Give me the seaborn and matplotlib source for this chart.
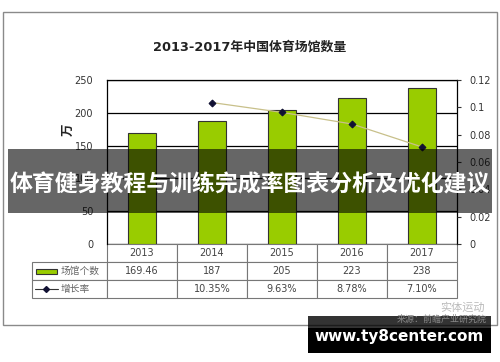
import numpy as np
import pandas as pd
import matplotlib
matplotlib.use('Agg')
import matplotlib.pyplot as plt
import seaborn as sns
from matplotlib.patches import Rectangle
from matplotlib.ticker import FuncFormatter

# 数据
years = ['2013', '2014', '2015', '2016', '2017']
venue_counts = [169.46, 187, 205, 223, 238]
growth_rates = [None, 0.1035, 0.0963, 0.0878, 0.0710]
count_labels = ['169.46', '187', '205', '223', '238']
rate_labels = ['', '10.35%', '9.63%', '8.78%', '7.10%']
row_names = ['场馆个数', '增长率']
left_ticks = [0, 50, 100, 150, 200, 250]
right_ticks = [0, 0.02, 0.04, 0.06, 0.08, 0.10, 0.12]

title = '2013-2017年中国体育场馆数量'
banner = '体育健身教程与训练完成率图表分析及优化建议'
site = 'www.ty8center.com'

sns.set_style('white')
plt.rcParams['font.family'] = ['DejaVu Sans', 'Noto Sans CJK SC']

W, H = 500, 362
fig = plt.figure(figsize=(W / 100, H / 100), dpi=100)
fig.patch.set_facecolor('white')


def px_box(x0, y0, x1, y1):
    # 像素坐标(左上原点) -> figure 坐标
    return [x0 / W, (H - y1) / H, (x1 - x0) / W, (y1 - y0) / H]


ax = fig.add_axes(px_box(107, 80, 457, 244))
df = pd.DataFrame({'年份': years, '场馆个数': venue_counts})
sns.barplot(data=df, x='年份', y='场馆个数', color='#99cc00', width=0.41,
            edgecolor='#333333', linewidth=0.8, saturation=1, ax=ax, zorder=3)
ax.set_xlim(-0.5, len(years) - 0.5)
ax.set_ylim(0, 250)
ax.set_yticks(left_ticks)
ax.yaxis.grid(True, color='black', linewidth=0.9, zorder=0)
ax.set_axisbelow(True)
ax.set_xticks([])
ax.set_xlabel('')
ax.set_ylabel('万', rotation=90, fontsize=9, fontweight='bold', color='#222222')
ax.yaxis.set_label_coords(-32 / 350, 114 / 164)
ax.tick_params(axis='y', length=0, pad=10, labelsize=7, labelcolor='#333333')
for s in ['left', 'top', 'right']:
    ax.spines[s].set_visible(True)
    ax.spines[s].set_color('black')
    ax.spines[s].set_linewidth(0.9)
ax.spines['bottom'].set_visible(False)

ax2 = ax.twinx()
pos = np.arange(len(years))
rate_pos = [p for p, r in zip(pos, growth_rates) if r is not None]
rate_vals = [r for r in growth_rates if r is not None]
sns.lineplot(x=rate_pos, y=rate_vals, color='#c8c08a', linewidth=0.9, marker='D',
             markersize=3.5, markerfacecolor='#111133', markeredgecolor='#111133', ax=ax2, zorder=5)
ax2.set_ylim(0, 0.12)
ax2.set_yticks(right_ticks)
ax2.yaxis.set_major_formatter(FuncFormatter(lambda v, _: f'{v:g}'))
ax2.tick_params(axis='y', length=3, width=0.8, pad=6, labelsize=7, labelcolor='#333333', color='#333333')
for s in ax2.spines.values():
    s.set_visible(False)

# 数据表
cell_text = [[''] + years, [row_names[0]] + count_labels, [row_names[1]] + rate_labels]
col_w = [75 / 425] + [70 / 425] * len(years)
tbl = ax.table(cellText=cell_text, colWidths=col_w, cellLoc='center',
               bbox=[-75 / 350, -54 / 164, 425 / 350, 54 / 164])
tbl.auto_set_font_size(False)
tbl.set_fontsize(7)
for (r, c), cell in tbl.get_celld().items():
    cell.set_edgecolor('#777777')
    cell.set_linewidth(0.8)
    cell.get_text().set_color('#444444')
    if c == 0:
        if r == 0:
            cell.visible_edges = ''
        else:
            cell.PAD = 29 / 75
            cell._loc = 'left'
            cell.get_text().set_ha('left')
            cell.get_text().set_color('#666666')

# 覆盖层 (像素坐标)
ov = fig.add_axes([0, 0, 1, 1], zorder=10)
ov.set_xlim(0, W)
ov.set_ylim(H, 0)
ov.axis('off')
ov.patch.set_alpha(0)

ov.add_patch(Rectangle((3, 12), 494, 313, fill=False, edgecolor='#8a8a8a', linewidth=1))
ov.text(250, 47, title, ha='center', va='center', fontsize=9.3, fontweight='bold', color='#222222')

# 表格图例
ov.add_patch(Rectangle((36, 269), 21, 5, facecolor='#99cc00', edgecolor='#333333', linewidth=0.8))
ov.plot([35, 58], [289, 289], color='#333333', linewidth=0.8)
ov.plot([46], [289], marker='D', markersize=3, color='#111133')

# 水印
ov.text(485, 308, '实体运动', ha='right', va='center', fontsize=8, color='#bbbbbb')
ov.text(487, 319, '来源：前瞻产业研究院', ha='right', va='center', fontsize=6.5, color='#888888')

# 横幅
ov.add_patch(Rectangle((8, 149), 484, 64, facecolor='black', alpha=0.6, linewidth=0))
ov.text(250, 185, banner, ha='center', va='center', fontsize=16.5, fontweight='bold',
        color='white', family=['Noto Sans CJK SC', 'DejaVu Sans'])

ov.add_patch(Rectangle((308, 316), 183, 12, facecolor='black', alpha=0.8, linewidth=0))
ov.add_patch(Rectangle((308, 328), 183, 25, facecolor='black', linewidth=0))
ov.text(399, 336, site, ha='center', va='center', fontsize=11, fontweight='bold', color='white')

fig.savefig('out.png', dpi=100)
